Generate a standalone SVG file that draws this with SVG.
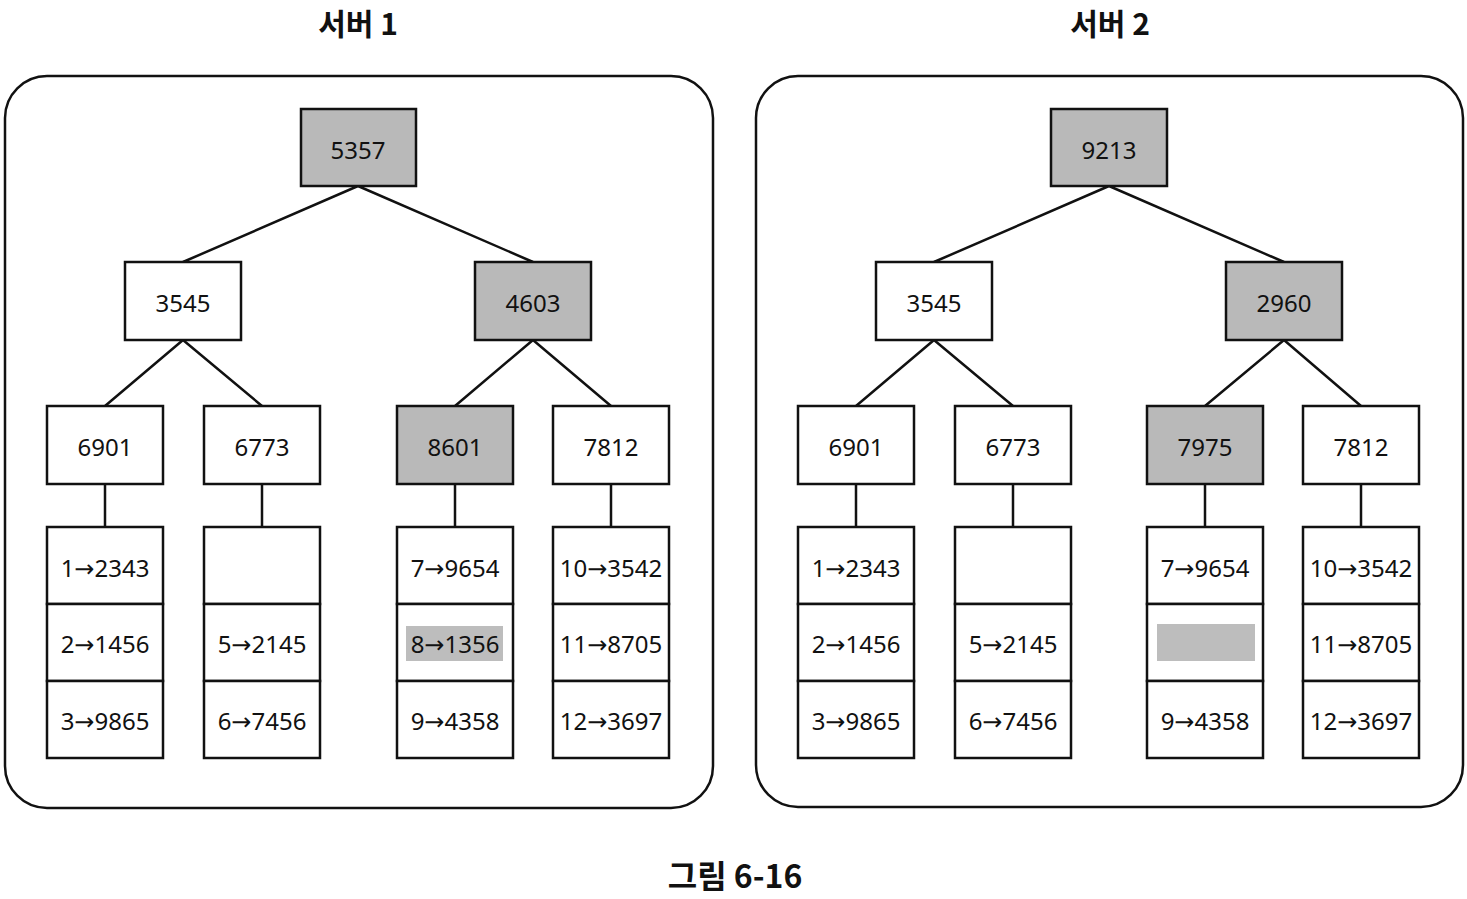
<svg xmlns="http://www.w3.org/2000/svg" width="1467" height="899" viewBox="0 0 1467 899">
<defs>
<style>
.bg{fill:#ffffff}
.srv{fill:#ffffff;stroke:#111;stroke-width:2.5}
.n{fill:#ffffff;stroke:#111;stroke-width:2.5}
.g{fill:#b9b9b9;stroke:#111;stroke-width:2.5}
.hl{fill:#bdbdbd}
.c{stroke:#111;stroke-width:2.5;fill:none}
.t{font-family:"Noto Sans","DejaVu Sans",sans-serif;font-size:24px;fill:#111;text-anchor:middle;dominant-baseline:central}
.h{font-family:"Noto Sans CJK KR","Noto Sans",sans-serif;font-size:30px;font-weight:bold;fill:#111;text-anchor:middle;dominant-baseline:central}
.cap{font-family:"Noto Sans CJK KR","Noto Sans",sans-serif;font-size:32px;font-weight:bold;fill:#111;text-anchor:middle;dominant-baseline:central}
</style>
</defs>
<rect class="bg" width="1467" height="899"/>
<text class="h" x="358" y="22">서버 1</text>
<text class="h" x="1110" y="22">서버 2</text>
<text class="cap" x="735" y="874">그림 6-16</text>

<g id="server1">
<rect class="srv" x="5" y="76" width="708" height="732" rx="42"/>
</g>
<g id="server2">
<rect class="srv" x="756" y="76" width="707" height="731" rx="42"/>
</g>

<g id="connectors">
<path class="c" d="M358 186L183 262M358 186L533 262M183 340L105 406M183 340L262 406M533 340L455 406M533 340L611 406M105 484V527M262 484V527M455 484V527M611 484V527"/>
<path class="c" d="M1109 186L934 262M1109 186L1284 262M934 340L856 406M934 340L1013 406M1284 340L1205 406M1284 340L1361 406M856 484V527M1013 484V527M1205 484V527M1361 484V527"/>
</g>

<g id="s1-root"><rect class="g" x="301" y="109" width="115" height="77"/><text class="t" x="358" y="149">5357</text></g>
<g id="s1-3545"><rect class="n" x="125" y="262" width="116" height="78"/><text class="t" x="183" y="302">3545</text></g>
<g id="s1-4603"><rect class="g" x="475" y="262" width="116" height="78"/><text class="t" x="533" y="302">4603</text></g>
<g id="s1-6901"><rect class="n" x="47" y="406" width="116" height="78"/><text class="t" x="105" y="446">6901</text></g>
<g id="s1-6773"><rect class="n" x="204" y="406" width="116" height="78"/><text class="t" x="262" y="446">6773</text></g>
<g id="s1-8601"><rect class="g" x="397" y="406" width="116" height="78"/><text class="t" x="455" y="446">8601</text></g>
<g id="s1-7812"><rect class="n" x="553" y="406" width="116" height="78"/><text class="t" x="611" y="446">7812</text></g>

<g id="s1-leaf1">
<rect class="n" x="47" y="527" width="116" height="77"/><text class="t" x="105" y="567">1→2343</text>
<rect class="n" x="47" y="604" width="116" height="77"/><text class="t" x="105" y="643">2→1456</text>
<rect class="n" x="47" y="681" width="116" height="77"/><text class="t" x="105" y="720">3→9865</text>
</g>
<g id="s1-leaf2">
<rect class="n" x="204" y="527" width="116" height="77"/>
<rect class="n" x="204" y="604" width="116" height="77"/><text class="t" x="262" y="643">5→2145</text>
<rect class="n" x="204" y="681" width="116" height="77"/><text class="t" x="262" y="720">6→7456</text>
</g>
<g id="s1-leaf3">
<rect class="n" x="397" y="527" width="116" height="77"/><text class="t" x="455" y="567">7→9654</text>
<rect class="n" x="397" y="604" width="116" height="77"/><rect class="hl" x="406" y="626" width="97" height="35"/><text class="t" x="455" y="643">8→1356</text>
<rect class="n" x="397" y="681" width="116" height="77"/><text class="t" x="455" y="720">9→4358</text>
</g>
<g id="s1-leaf4">
<rect class="n" x="553" y="527" width="116" height="77"/><text class="t" x="611" y="567">10→3542</text>
<rect class="n" x="553" y="604" width="116" height="77"/><text class="t" x="611" y="643">11→8705</text>
<rect class="n" x="553" y="681" width="116" height="77"/><text class="t" x="611" y="720">12→3697</text>
</g>

<g id="s2-root"><rect class="g" x="1051" y="109" width="116" height="77"/><text class="t" x="1109" y="149">9213</text></g>
<g id="s2-3545"><rect class="n" x="876" y="262" width="116" height="78"/><text class="t" x="934" y="302">3545</text></g>
<g id="s2-2960"><rect class="g" x="1226" y="262" width="116" height="78"/><text class="t" x="1284" y="302">2960</text></g>
<g id="s2-6901"><rect class="n" x="798" y="406" width="116" height="78"/><text class="t" x="856" y="446">6901</text></g>
<g id="s2-6773"><rect class="n" x="955" y="406" width="116" height="78"/><text class="t" x="1013" y="446">6773</text></g>
<g id="s2-7975"><rect class="g" x="1147" y="406" width="116" height="78"/><text class="t" x="1205" y="446">7975</text></g>
<g id="s2-7812"><rect class="n" x="1303" y="406" width="116" height="78"/><text class="t" x="1361" y="446">7812</text></g>

<g id="s2-leaf1">
<rect class="n" x="798" y="527" width="116" height="77"/><text class="t" x="856" y="567">1→2343</text>
<rect class="n" x="798" y="604" width="116" height="77"/><text class="t" x="856" y="643">2→1456</text>
<rect class="n" x="798" y="681" width="116" height="77"/><text class="t" x="856" y="720">3→9865</text>
</g>
<g id="s2-leaf2">
<rect class="n" x="955" y="527" width="116" height="77"/>
<rect class="n" x="955" y="604" width="116" height="77"/><text class="t" x="1013" y="643">5→2145</text>
<rect class="n" x="955" y="681" width="116" height="77"/><text class="t" x="1013" y="720">6→7456</text>
</g>
<g id="s2-leaf3">
<rect class="n" x="1147" y="527" width="116" height="77"/><text class="t" x="1205" y="567">7→9654</text>
<rect class="n" x="1147" y="604" width="116" height="77"/><rect class="hl" x="1157" y="624" width="98" height="37"/>
<rect class="n" x="1147" y="681" width="116" height="77"/><text class="t" x="1205" y="720">9→4358</text>
</g>
<g id="s2-leaf4">
<rect class="n" x="1303" y="527" width="116" height="77"/><text class="t" x="1361" y="567">10→3542</text>
<rect class="n" x="1303" y="604" width="116" height="77"/><text class="t" x="1361" y="643">11→8705</text>
<rect class="n" x="1303" y="681" width="116" height="77"/><text class="t" x="1361" y="720">12→3697</text>
</g>
</svg>
